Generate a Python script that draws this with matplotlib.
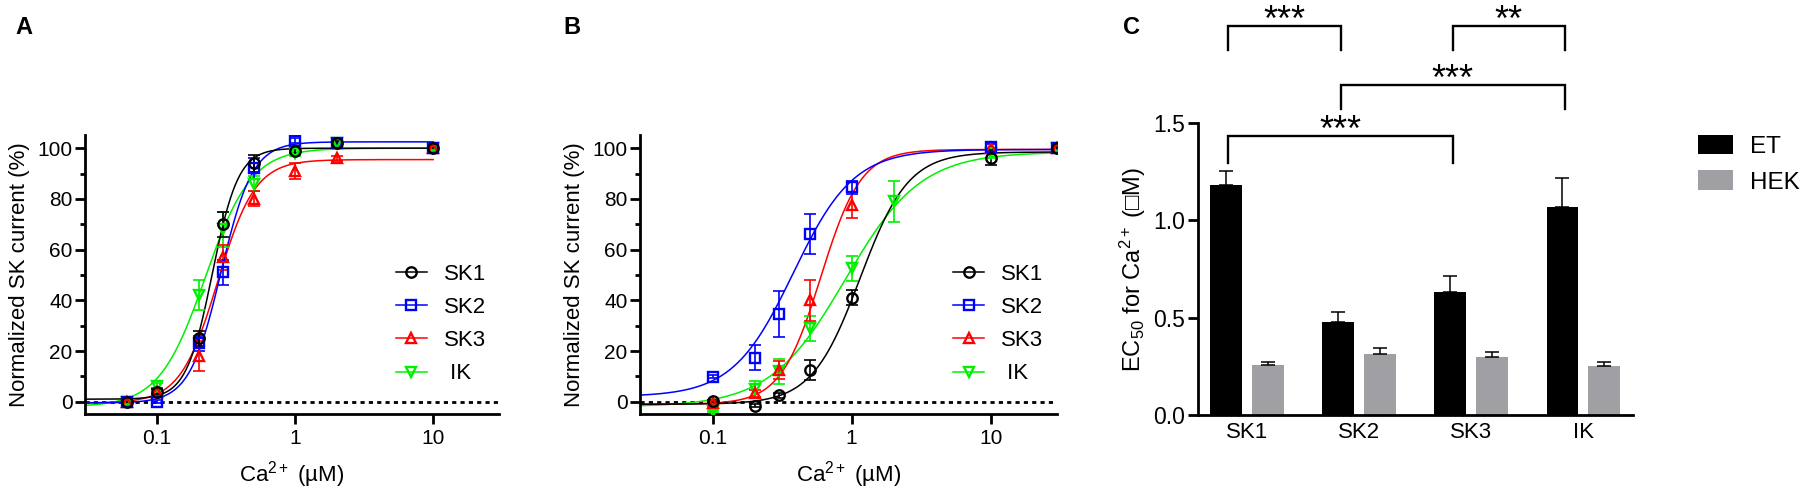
import numpy as np
import matplotlib.pyplot as plt
from matplotlib.lines import Line2D
from matplotlib.patches import Patch
from matplotlib.ticker import NullLocator

plt.rcParams['font.family'] = ['Liberation Sans', 'DejaVu Sans']
plt.rcParams['mathtext.fontset'] = 'custom'
plt.rcParams['mathtext.rm'] = 'Liberation Sans'
plt.rcParams['mathtext.it'] = 'Liberation Sans:italic'
plt.rcParams['mathtext.bf'] = 'Liberation Sans:bold'

W, H = 1800, 494

# ---- data -------------------------------------------------------------
CHANNELS = ["SK1", "SK2", "SK3", "IK"]
LEG_LABELS = ["SK1", "SK2", "SK3", " IK"]
COLORS = ["#000000", "#0000ff", "#ff0000", "#00f000"]
MARKERS = ["o", "s", "^", "v"]

# panel A: ET cells
CA_A = [0.06, 0.1, 0.2, 0.3, 0.5, 1, 2, 10]
A_MEAN = {
    "SK1": [0, 4, 25, 70, 94, 99, 102, 100],
    "SK2": [0, 0, 23, 51, 92, 103, 102, 100],
    "SK3": [0, 4, 18, 57, 80, 91, 96, 100],
    "IK": [0, 6, 42, 68, 86, 98, 102, 100],
}
A_SEM = {
    "SK1": [0, 1, 3, 5, 3.5, 1, 1, 0],
    "SK2": [0, 0.5, 3, 5, 4, 1, 0.5, 0],
    "SK3": [1.5, 1.5, 6, 5, 3, 3, 1, 1.5],
    "IK": [0.5, 1.5, 6, 7, 3, 1, 2, 1],
}
# Hill fits: bottom, top, EC50, slope
A_FIT = {
    "SK1": (1, 100, 0.251, 4.6),
    "SK2": (-0.5, 102.5, 0.29, 3.8),
    "SK3": (-0.5, 95.5, 0.275, 3.2),
    "IK": (-2, 100, 0.223, 2.6),
}

# panel B: HEK cells
CA_B = [0.1, 0.2, 0.3, 0.5, 1, 2, 10, 30]
B_MEAN = {
    "SK1": [0.3, -1.5, 2.6, 12.5, 41, None, 96.3, 100],
    "SK2": [9.9, 17.4, 34.5, 66.2, 84.6, None, 100.5, 100],
    "SK3": [-0.5, 3.3, 12.5, 40, 77.6, None, 100, 100],
    "IK": [-3.7, 5, 12, 29, 52.6, 79, 98, 100],
}
B_SEM = {
    "SK1": [0.5, 0.5, 1, 4, 3, None, 3, 0.5],
    "SK2": [0.5, 5, 9, 8, 2.5, None, 1, 0.5],
    "SK3": [0.5, 1.5, 3.5, 8, 5, None, 2, 1],
    "IK": [0.5, 3, 5, 5, 5, 8, 2, 0.5],
}
B_FIT = {
    "SK1": (-1, 98.5, 1.15, 2.5),
    "SK2": (2, 99.5, 0.38, 2.0),
    "SK3": (-1, 99.5, 0.6, 3.0),
    "IK": (-2, 98.5, 0.9, 1.6),
}

# panel C: EC50 values (µM)
EC50_ET = [1.184, 0.476, 0.63, 1.067]
EC50_ET_SEM = [0.068, 0.054, 0.083, 0.149]
EC50_HEK = [0.255, 0.311, 0.299, 0.25]
EC50_HEK_SEM = [0.018, 0.031, 0.023, 0.023]
# significance brackets: (group i, group j, bracket height, leg end, stars)
BRACKETS = [
    (0, 1, 2.0, 1.873, "***"),
    (2, 3, 2.0, 1.873, "**"),
    (1, 3, 1.693, 1.574, "***"),
    (0, 2, 1.431, 1.297, "***"),
]

INK = "black"
GREY = "#a0a0a4"


def hill(x, bottom, top, ec50, n):
    return bottom + (top - bottom) / (1 + (ec50 / x) ** n)


def px_axes(fig, l, t, r, b):
    return fig.add_axes([l / W, 1 - b / H, (r - l) / W, (b - t) / H])


def style_axes(ax, size):
    for s in ("top", "right"):
        ax.spines[s].set_visible(False)
    for s in ("left", "bottom"):
        ax.spines[s].set_linewidth(2)
    ax.tick_params(which="major", direction="out", width=2, length=7,
                   labelsize=size)
    ax.tick_params(which="minor", direction="out", width=2, length=3.5)
    ax.tick_params(axis="y", pad=2)
    ax.tick_params(axis="x", pad=4)


fig = plt.figure(figsize=(W / 100, H / 100), dpi=100)


def dose_panel(ax, ca, means, sems, fits, x_end):
    ca = np.array(ca, dtype=float)
    ax.set_xscale("log")
    ax.set_xlim(0.03, 30)
    ax.set_ylim(-4.85, 105.2)
    ax.axhline(0, color=INK, lw=2, ls=(0, (1.5, 1.5)), zorder=1)
    xs = np.logspace(np.log10(0.03), np.log10(x_end), 300)
    for ch, c, m in reversed(list(zip(CHANNELS, COLORS, MARKERS))):
        y = np.array([np.nan if v is None else v for v in means[ch]])
        e = np.array([np.nan if v is None else v for v in sems[ch]])
        ok = ~np.isnan(y)
        ax.plot(xs, hill(xs, *fits[ch]), color=c, lw=1.1, zorder=2)
        ax.errorbar(ca[ok], y[ok], yerr=e[ok], fmt="none", ecolor=c,
                    elinewidth=1.2, capsize=4.2, capthick=1.2, zorder=3)
        ax.plot(ca[ok], y[ok], ls="none", marker=m, ms=7.5, mfc="none",
                mec=c, mew=1.7, zorder=4)
    ax.set_xticks([0.1, 1, 10])
    ax.set_xticklabels(["0.1", "1", "10"])
    ax.xaxis.set_minor_locator(NullLocator())
    ax.set_yticks(np.arange(0, 101, 20))
    ax.set_yticks(np.arange(10, 100, 20), minor=True)
    style_axes(ax, 15)
    ax.set_xlabel(r"Ca$^{2+}$ (µM)", fontsize=16, labelpad=8)
    ax.set_ylabel("Normalized SK current (%)", fontsize=16, labelpad=5)
    handles = [Line2D([], [], color=c, lw=1.1, marker=m, ms=7.5, mfc="none",
                      mec=c, mew=1.7) for c, m in zip(COLORS, MARKERS)]
    ax.legend(handles, LEG_LABELS, loc="center left",
              bbox_to_anchor=(0.751, 0.322), frameon=False, fontsize=16,
              handlelength=1.4, handletextpad=0.75, labelspacing=0.55,
              borderpad=0, borderaxespad=0)


axA = px_axes(fig, 85, 135, 499, 414)
dose_panel(axA, CA_A, A_MEAN, A_SEM, A_FIT, 10)

axB = px_axes(fig, 640, 135, 1057, 414)
dose_panel(axB, CA_B, B_MEAN, B_SEM, B_FIT, 30)

# ---- panel C ----------------------------------------------------------
axC = px_axes(fig, 1198, 123, 1633, 415)
grp = np.arange(len(CHANNELS))
off, bw = 0.187, 0.283
err_kw = dict(ecolor=INK, elinewidth=1.1, capsize=5, capthick=1.1)
axC.bar(grp - off, EC50_ET, bw, color=INK, zorder=2,
        yerr=[np.zeros(4), EC50_ET_SEM], error_kw=err_kw)
axC.bar(grp + off, EC50_HEK, bw, color=GREY, zorder=2,
        yerr=[np.zeros(4), EC50_HEK_SEM], error_kw=err_kw)
axC.set_xlim(-0.439, 3.443)
axC.set_ylim(0, 1.5)
axC.set_yticks([0, 0.5, 1.0, 1.5])
axC.set_yticklabels(["0.0", "0.5", "1.0", "1.5"])
axC.set_xticks(grp)
axC.set_xticklabels(CHANNELS)
style_axes(axC, 16.5)
axC.tick_params(axis="x", length=0, pad=5, labelsize=16)
axC.set_ylabel(r"EC$_{50}$ for Ca$^{2+}$ (□M)", fontsize=17, labelpad=4)

for i, j, yb, yl, stars in BRACKETS:
    x0, x1 = grp[i] - off + 0.02, grp[j] - off + 0.02
    axC.plot([x0, x0, x1, x1], [yl, yb, yb, yl], color=INK, lw=1.7,
             clip_on=False, solid_joinstyle="miter")
    axC.text((x0 + x1) / 2, yb - 0.025, stars, ha="center", va="baseline",
             fontsize=26)

axC.legend([Patch(facecolor=INK), Patch(facecolor=GREY)], ["ET", "HEK"],
           loc="center left", bbox_to_anchor=(1.149, 0.859), frameon=False,
           fontsize=17.5, handlelength=1.44, handleheight=0.85,
           handletextpad=0.7, labelspacing=0.52, borderpad=0,
           borderaxespad=0)

for lab, x in (("A", 15), ("B", 563), ("C", 1123)):
    fig.text(x / W, 1 - 28 / H, lab, fontsize=17, fontweight="bold",
             va="center", ha="left")

fig.savefig("out.png", dpi=100)
